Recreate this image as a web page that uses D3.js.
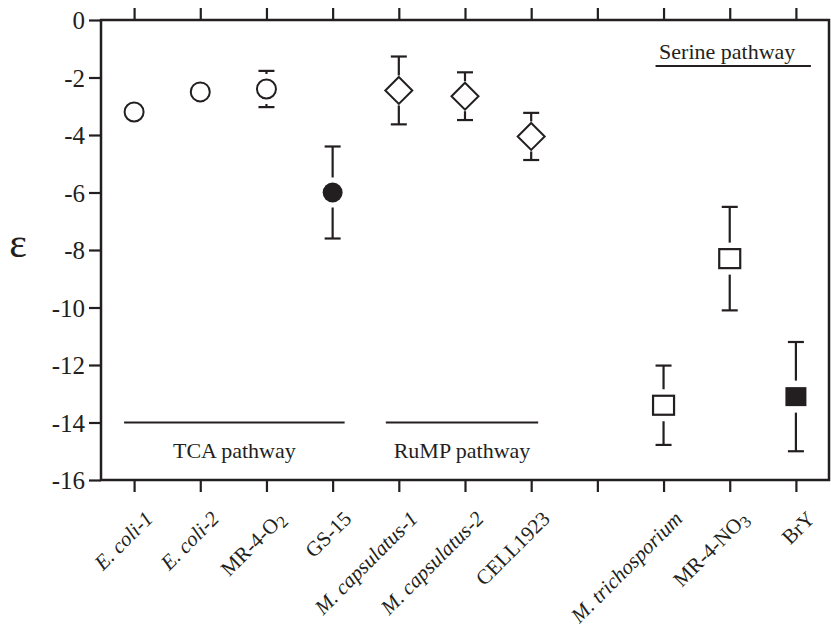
<!DOCTYPE html>
<html>
<head>
<meta charset="utf-8">
<script src="https://cdn.jsdelivr.net/npm/d3@7"></script>
<style>
  body { margin: 0; background: #fff; }
  text { font-family: "Liberation Serif", "Times New Roman", serif; fill: #231f20; }
</style>
</head>
<body>
<svg id="chart" width="831" height="631"></svg>
<script>
// strains along the x axis ("" = empty slot), "_" marks a subscript
var strains = ["E. coli-1", "E. coli-2", "MR-4-O_2", "GS-15", "M. capsulatus-1",
               "M. capsulatus-2", "CELL1923", "", "M. trichosporium", "MR-4-NO_3", "BrY"];
var italicLabel = [true, true, false, false, true, true, false, false, true, false, false];
// fractionation epsilon and the error (+/-)
var epsilon = [-3.2, -2.5, -2.4, -6.0, -2.45, -2.65, -4.05, null, -13.4, -8.3, -13.1];
var errors  = [0, 0, 0.63, 1.6, 1.18, 0.83, 0.82, null, 1.38, 1.8, 1.9];
var shapes  = ["circle", "circle", "circle", "circle", "diamond", "diamond", "diamond",
               null, "square", "square", "square"];
var filled  = [false, false, false, true, false, false, false, null, false, false, true];
var yTicks  = [0, -2, -4, -6, -8, -10, -12, -14, -16];

// pathway groups
var pathways = ["TCA pathway", "RuMP pathway", "Serine pathway"];
var pathwayFrom = [0, 4, 8];
var pathwayTo = [3, 6, 10];

var ink = "#231f20";
var svg = d3.select("#chart");
var plotL = 101, plotR = 829, plotT = 20, plotB = 480;

var x = d3.scalePoint()
    .domain(d3.range(strains.length))
    .range([plotL, plotR])
    .padding(0.5);
var y = d3.scaleLinear().domain([0, -16]).range([plotT, plotB]);

// frame
svg.append("rect")
    .attr("x", plotL).attr("y", plotT)
    .attr("width", plotR - plotL).attr("height", plotB - plotT)
    .attr("fill", "none").attr("stroke", ink).attr("stroke-width", 2.5);

// axes
var yAxis = svg.append("g")
    .attr("transform", "translate(" + plotL + ",0)")
    .call(d3.axisLeft(y).tickValues(yTicks).tickSize(12).tickPadding(4)
          .tickFormat(function(d) { return String(d); }));
var xAxis = svg.append("g")
    .attr("transform", "translate(0," + plotB + ")")
    .call(d3.axisBottom(x).tickSize(12).tickFormat(""));
var xTop = svg.append("g")
    .attr("transform", "translate(0," + plotT + ")")
    .call(d3.axisTop(x).tickSize(12).tickFormat(""));

[yAxis, xAxis, xTop].forEach(function(g) {
  g.select(".domain").remove();
  g.selectAll(".tick line").attr("stroke", ink).attr("stroke-width", 2.2);
});
yAxis.selectAll(".tick text")
    .attr("font-size", 25)
    .attr("font-family", "Liberation Serif")
    .attr("fill", ink)
    .attr("dy", "0.34em");

// rotated strain labels
strains.forEach(function(name, i) {
  if (!name) return;
  var t = svg.append("text")
      .attr("transform", "translate(" + (x(i) + 20) + "," + 520 + ") rotate(-45)")
      .attr("text-anchor", "end")
      .attr("font-size", 21)
      .attr("font-style", italicLabel[i] ? "italic" : "normal");
  var parts = name.split("_");
  t.append("tspan").text(parts[0]);
  if (parts[1]) {
    t.append("tspan").attr("dy", 4).attr("font-size", 17).text(parts[1]);
  }
});

// epsilon axis title
svg.append("text")
    .attr("x", 18).attr("y", 257)
    .attr("text-anchor", "middle")
    .attr("font-size", 42)
    .text("\u03b5");

// error bars
var capW = 8;
var points = d3.range(strains.length).filter(function(i) { return epsilon[i] !== null; });
points.forEach(function(i) {
  if (!errors[i]) return;
  var cx = x(i), cy = y(epsilon[i]);
  var hi = y(epsilon[i] + errors[i]), lo = y(epsilon[i] - errors[i]);
  var gap = shapes[i] === "diamond" ? 15 : (shapes[i] === "square" ? 16 : 15);
  var g = svg.append("g").attr("stroke", ink).attr("stroke-width", 2.2);
  if (cy - gap > hi) g.append("line").attr("x1", cx).attr("x2", cx).attr("y1", hi).attr("y2", cy - gap);
  if (cy + gap < lo) g.append("line").attr("x1", cx).attr("x2", cx).attr("y1", cy + gap).attr("y2", lo);
  g.append("line").attr("x1", cx - capW).attr("x2", cx + capW).attr("y1", hi).attr("y2", hi);
  g.append("line").attr("x1", cx - capW).attr("x2", cx + capW).attr("y1", lo).attr("y2", lo);
  if (shapes[i] === "circle" && cy - gap <= hi) {
    // short stubs between cap and circle
    g.append("line").attr("x1", cx).attr("x2", cx).attr("y1", hi).attr("y2", hi + 2);
    g.append("line").attr("x1", cx).attr("x2", cx).attr("y1", lo - 2).attr("y2", lo);
  }
});

// markers
points.forEach(function(i) {
  var cx = x(i), cy = y(epsilon[i]);
  var fill = filled[i] ? ink : "#fff";
  if (shapes[i] === "circle") {
    svg.append("circle").attr("cx", cx).attr("cy", cy).attr("r", filled[i] ? 10 : 9.5)
        .attr("fill", fill).attr("stroke", ink).attr("stroke-width", filled[i] ? 0 : 2);
  } else if (shapes[i] === "diamond") {
    var s = 13.5;
    svg.append("path")
        .attr("d", "M" + cx + "," + (cy - s) + "L" + (cx + s) + "," + cy + "L" + cx + "," + (cy + s) + "L" + (cx - s) + "," + cy + "Z")
        .attr("fill", fill).attr("stroke", ink).attr("stroke-width", 2);
  } else {
    svg.append("rect").attr("x", cx - 10.5).attr("y", cy - 9.5)
        .attr("width", 21).attr("height", 19)
        .attr("fill", fill).attr("stroke", ink).attr("stroke-width", filled[i] ? 0 : 2.2);
  }
});

// pathway lines and labels
var lineExt = [[-10, 12], [-13, 7], [-8, 15]];
pathways.forEach(function(p, k) {
  var x1 = x(pathwayFrom[k]) + lineExt[k][0], x2 = x(pathwayTo[k]) + lineExt[k][1];
  var serine = k === 2;
  var ly = serine ? 66 : y(-14);
  svg.append("line").attr("x1", x1).attr("x2", x2).attr("y1", ly).attr("y2", ly)
      .attr("stroke", ink).attr("stroke-width", 1.8);
  svg.append("text")
      .attr("x", serine ? (x1 + x2) / 2 - 6 : (x1 + x2) / 2)
      .attr("y", serine ? 59 : 458)
      .attr("text-anchor", "middle")
      .attr("font-size", 22)
      .text(p);
});
</script>
</body>
</html>
